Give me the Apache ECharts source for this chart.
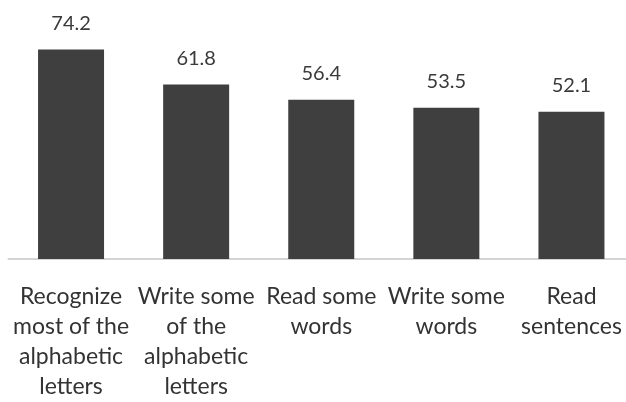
<!DOCTYPE html>
<html>
<head>
<meta charset="utf-8">
<script src="https://cdn.jsdelivr.net/npm/echarts@6/dist/echarts.min.js"></script>
<style>html,body{margin:0;padding:0;background:#fff;overflow:hidden}#c{width:640px;height:402px}</style>
</head>
<body>
<div id="c"></div>
<script>
const categories = [
  "Recognize\nmost of the\nalphabetic\nletters",
  "Write some\nof the\nalphabetic\nletters",
  "Read some\nwords",
  "Write some\nwords",
  "Read\nsentences"
];
const values = [74.2, 61.8, 56.4, 53.5, 52.1];

const chart = echarts.init(document.getElementById('c'));
chart.setOption({
  animation: false,
  backgroundColor: '#ffffff',
  grid: { left: 8.5, width: 625.5, top: 33, height: 233 },
  xAxis: {
    type: 'category',
    data: categories,
    axisLine: { lineStyle: { color: '#d4d4d4', width: 2 } },
    axisTick: { show: false },
    axisLabel: {
      color: '#333333', fontFamily: 'Lato', fontSize: 23, lineHeight: 30,
      margin: 23, interval: 0
    }
  },
  yAxis: { type: 'value', min: 0, max: 80, show: false, splitLine: { show: false } },
  series: [{
    type: 'bar',
    data: values,
    barWidth: 66,
    itemStyle: { color: '#3f3f3f' },
    label: {
      show: true, position: 'top', distance: 16,
      color: '#3a3a3a', fontFamily: 'Lato', fontSize: 20,
      formatter: p => p.value.toFixed(1)
    }
  }]
});
</script>
</body>
</html>
